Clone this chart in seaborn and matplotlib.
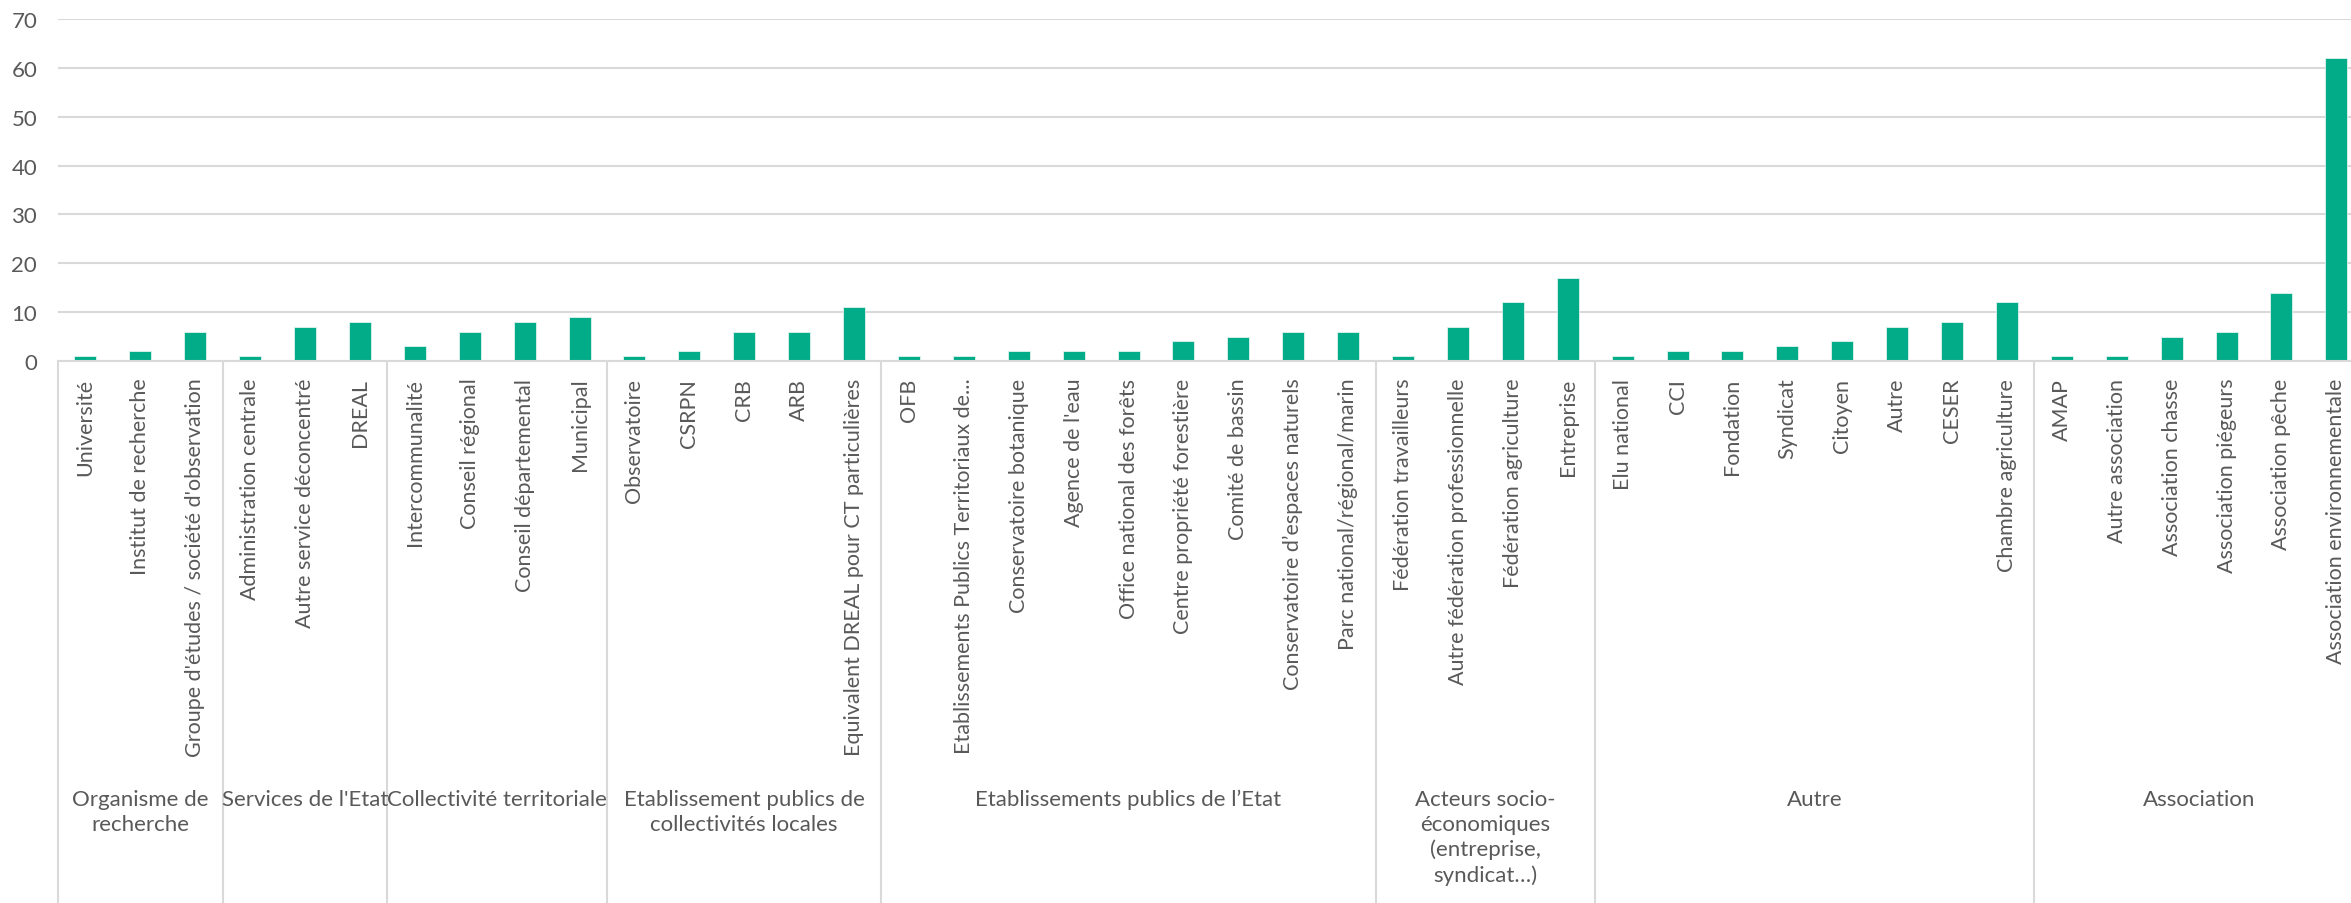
import matplotlib
matplotlib.use("Agg")
import matplotlib.pyplot as plt
import matplotlib.transforms as mtransforms
import seaborn as sns
import pandas as pd

# Categories grouped by type of structure
groups = [
    "Organisme de\nrecherche",
    "Services de l'Etat",
    "Collectivité territoriale",
    "Etablissement publics de\ncollectivités locales",
    "Etablissements publics de l’Etat",
    "Acteurs socio-\néconomiques\n(entreprise,\nsyndicat…)",
    "Autre",
    "Association",
]

organisme_recherche = ["Université", "Institut de recherche",
                       "Groupe d'études / société d'observation"]
organisme_recherche_n = [1, 2, 6]

services_etat = ["Administration centrale", "Autre service déconcentré", "DREAL"]
services_etat_n = [1, 7, 8]

collectivite = ["Intercommunalité", "Conseil régional", "Conseil départemental",
                "Municipal"]
collectivite_n = [3, 6, 8, 9]

etab_collectivites = ["Observatoire", "CSRPN", "CRB", "ARB",
                      "Equivalent DREAL pour CT particulières"]
etab_collectivites_n = [1, 2, 6, 6, 11]

etab_etat = ["OFB", "Etablissements Publics Territoriaux de...",
             "Conservatoire botanique", "Agence de l'eau",
             "Office national des forêts", "Centre propriété forestière",
             "Comité de bassin", "Conservatoire d’espaces naturels",
             "Parc national/régional/marin"]
etab_etat_n = [1, 1, 2, 2, 2, 4, 5, 6, 6]

acteurs = ["Fédération travailleurs", "Autre fédération professionnelle",
           "Fédération agriculture", "Entreprise"]
acteurs_n = [1, 7, 12, 17]

autre = ["Elu national", "CCI", "Fondation", "Syndicat", "Citoyen", "Autre",
         "CESER", "Chambre agriculture"]
autre_n = [1, 2, 2, 3, 4, 7, 8, 12]

association = ["AMAP", "Autre association", "Association chasse",
               "Association piégeurs", "Association pêche",
               "Association environnementale"]
association_n = [1, 1, 5, 6, 14, 62]

members = [organisme_recherche, services_etat, collectivite, etab_collectivites,
           etab_etat, acteurs, autre, association]
counts = [organisme_recherche_n, services_etat_n, collectivite_n,
          etab_collectivites_n, etab_etat_n, acteurs_n, autre_n, association_n]

rows = []
for g, names, vals in zip(groups, members, counts):
    for n, v in zip(names, vals):
        rows.append({"groupe": g, "type": n, "nombre": v})
df = pd.DataFrame(rows)

sns.set_theme(style="white")
plt.rcParams["font.family"] = ["Lato", "DejaVu Sans"]

W, H = 2351, 904
fig = plt.figure(figsize=(W / 100, H / 100), dpi=100)
left_px, base_px, top_px = 58, 362, 20
step_px = 54.9
ncat = len(df)
ax = fig.add_axes([left_px / W, (H - base_px) / H,
                   ncat * step_px / W, (base_px - top_px) / H])

bar_color = "#03AC89"
sns.barplot(data=df, x="type", y="nombre", order=list(df["type"]),
            color=bar_color, width=0.4, saturation=1, ax=ax,
            edgecolor="#dff3ee", linewidth=0.6)

ax.set_xlim(-0.5, ncat - 0.5)
ax.set_ylim(0, 70)
ax.set_yticks(range(0, 71, 10))
ax.set_xlabel("")
ax.set_ylabel("")
grid_c = "#d9d9d9"
ax.yaxis.grid(True, color=grid_c, linewidth=1.5)
ax.set_axisbelow(True)
for s in ["top", "right", "left"]:
    ax.spines[s].set_visible(False)
ax.spines["bottom"].set_color(grid_c)
ax.spines["bottom"].set_linewidth(1.5)

text_c = "#595959"
ax.tick_params(axis="y", length=0, pad=15, labelsize=16, labelcolor=text_c)
ax.set_xticks(range(ncat))
ax.set_xticklabels(df["type"], rotation=90, fontsize=15.5, color=text_c,
                   va="top", ha="center")
ax.tick_params(axis="x", length=0, pad=12)

# Group separators and group labels below the category labels
trans = mtransforms.blended_transform_factory(ax.transData, ax.transAxes)
bottom_ax = -(H - base_px) / (base_px - top_px)
pos = -0.5
for g, names in zip(groups, members):
    ax.plot([pos, pos], [0, bottom_ax], transform=trans, color=grid_c,
            linewidth=1.5, clip_on=False)
    center = pos + len(names) / 2
    ax.text(center, -(790 - base_px) / (base_px - top_px), g, transform=trans,
            ha="center", va="top", fontsize=16, color=text_c, linespacing=1.3,
            multialignment="center")
    pos += len(names)
ax.plot([pos, pos], [0, bottom_ax], transform=trans, color=grid_c,
        linewidth=1.5, clip_on=False)

fig.savefig("out.png", dpi=100)
